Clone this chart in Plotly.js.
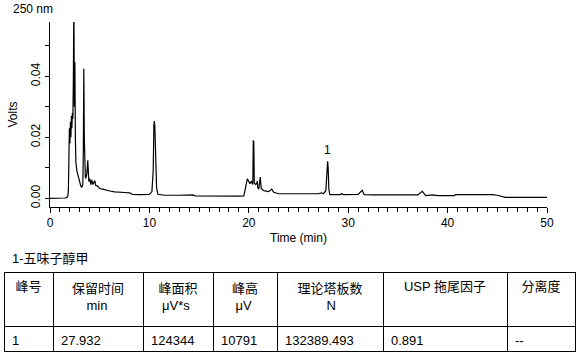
<!DOCTYPE html>
<html>
<head>
<meta charset="utf-8">
<script src="https://cdn.plot.ly/plotly-3.0.1.min.js"></script>
<style>html,body{margin:0;padding:0;background:#fff;}#chart{width:578px;height:357px;}</style>
</head>
<body>
<div id="chart"></div>
<script>
// Chromatogram (time in min, signal in Volts)
const timeMin = [0, 1.0, 1.5, 1.7, 1.8, 1.85, 1.9, 1.95, 2.0, 2.05, 2.1, 2.15, 2.2, 2.25, 2.3, 2.35, 2.4, 2.45, 2.5, 2.55, 2.6, 2.7, 2.8, 2.9, 3.0, 3.1, 3.2, 3.3, 3.35, 3.4, 3.45, 3.5, 3.55, 3.6, 3.7, 3.8, 3.85, 3.9, 4.0, 4.1, 4.2, 4.3, 4.5, 4.6, 4.8, 5.0, 5.3, 5.6, 6.0, 6.5, 7.0, 7.5, 8.0, 8.3, 9.0, 10.0, 10.25, 10.38, 10.45, 10.5, 10.55, 10.62, 10.72, 10.85, 11.5, 13.0, 14.0, 14.4, 14.6, 16.0, 19.0, 19.5, 19.7, 19.85, 20.0, 20.1, 20.25, 20.4, 20.45, 20.5, 20.55, 20.7, 20.8, 20.85, 20.9, 21.0, 21.15, 21.25, 21.5, 22.0, 22.3, 22.5, 23.0, 27.0, 27.3, 27.5, 27.75, 27.88, 27.93, 27.98, 28.05, 28.15, 29.2, 29.35, 29.5, 31.0, 31.4, 31.6, 32.3, 32.6, 33.0, 37.0, 37.45, 37.8, 38.5, 39.0, 40.7, 40.8, 44.5, 45.0, 45.8, 50.0];
const volts = [0.0000, 0.0000, 0.0001, 0.0003, 0.0008, 0.0030, 0.0120, 0.0230, 0.0180, 0.0250, 0.0200, 0.0270, 0.0230, 0.0280, 0.0260, 0.0400, 0.0650, 0.0300, 0.0447, 0.0200, 0.0120, 0.0090, 0.0075, 0.0060, 0.0048, 0.0040, 0.0036, 0.0045, 0.0150, 0.0425, 0.0200, 0.0090, 0.0070, 0.0065, 0.0080, 0.0125, 0.0080, 0.0055, 0.0065, 0.0045, 0.0060, 0.0045, 0.0058, 0.0042, 0.0040, 0.0032, 0.0030, 0.0027, 0.0024, 0.0021, 0.0019, 0.0019, 0.0018, 0.0013, 0.0012, 0.0013, 0.0022, 0.0090, 0.0240, 0.0253, 0.0230, 0.0110, 0.0035, 0.0013, 0.0010, 0.0010, 0.0009, 0.0011, 0.0008, 0.0007, 0.0007, 0.0008, 0.0040, 0.0064, 0.0055, 0.0048, 0.0055, 0.0045, 0.0190, 0.0185, 0.0050, 0.0045, 0.0050, 0.0057, 0.0035, 0.0030, 0.0070, 0.0032, 0.0025, 0.0022, 0.0030, 0.0020, 0.0015, 0.0015, 0.0018, 0.0015, 0.0025, 0.0110, 0.0121, 0.0100, 0.0030, 0.0012, 0.0012, 0.0016, 0.0012, 0.0013, 0.0026, 0.0012, 0.0010, 0.0011, 0.0011, 0.0011, 0.0023, 0.0009, 0.0011, 0.0009, 0.0009, 0.0012, 0.0012, 0.0010, 0.0003, 0.0003];

// Peak label
const peakLabel = "1";
const peakTime = 27.93;
const peakHeight = 0.0121;

// Texts
const wavelengthText = "250 nm";
const compoundTitle = "1-五味子醇甲";

// Result table
const tableHeaders = ["峰号", "保留时间<br>\u00a0\u00a0\u00a0\u00a0min", "峰面积<br>\u00a0μV*s", "峰高<br>\u00a0μV", "理论塔板数<br>\u00a0\u00a0\u00a0\u00a0\u00a0\u00a0\u00a0\u00a0N", "USP 拖尾因子", "分离度"];
const peakNo = ["1"];
const retentionTime = ["27.932"];
const peakArea = ["124344"];
const peakHeightUV = ["10791"];
const plates = ["132389.493"];
const uspTailing = ["0.891"];
const resolution = ["--"];

const FONT = "Liberation Sans, Arial, Noto Sans CJK SC, sans-serif";

const traces = [
  {
    type: "scatter", mode: "lines", x: timeMin, y: volts,
    line: {color: "#000000", width: 1.2}, hoverinfo: "skip", showlegend: false
  },
  {
    type: "table",
    domain: {x: [0, 1], y: [0, 0.2394]},
    columnwidth: [49, 90, 70, 64, 106, 124, 68],
    header: {
      values: tableHeaders,
      align: "center", height: 54,
      line: {color: "#000000", width: 1},
      fill: {color: "#ffffff"},
      font: {family: FONT, size: 13, color: "#000000"}
    },
    cells: {
      values: [peakNo, retentionTime, peakArea, peakHeightUV, plates, uspTailing, resolution],
      align: "left", height: 25,
      line: {color: "#000000", width: 1},
      fill: {color: "#ffffff"},
      font: {family: FONT, size: 13, color: "#000000"}
    }
  }
];

const layout = {
  width: 578, height: 357,
  margin: {l: 4, r: 3, t: 22, b: 5},
  paper_bgcolor: "#ffffff", plot_bgcolor: "#ffffff",
  font: {family: FONT, size: 12, color: "#000000"},
  showlegend: false,
  xaxis: {
    domain: [0.0806, 0.951], anchor: "y",
    range: [0, 50], dtick: 10, tick0: 0,
    showline: true, linecolor: "#000000", linewidth: 1,
    ticks: "outside", ticklen: 5, tickcolor: "#000000", tickwidth: 1,
    minor: {dtick: 1, ticks: "outside", ticklen: 4, tickcolor: "#000000", tickwidth: 1},
    showgrid: false, zeroline: false,
    tickfont: {family: FONT, size: 12, color: "#000000"},
    title: {text: "Time (min)", font: {family: FONT, size: 12, color: "#000000"}, standoff: 4}
  },
  yaxis: {
    domain: [0.4394, 1], anchor: "x",
    range: [-0.00285, 0.0578], dtick: 0.02, tick0: 0, tickformat: ".2f",
    tickangle: -90,
    showline: true, linecolor: "#000000", linewidth: 1,
    ticks: "outside", ticklen: 4, tickcolor: "#000000", tickwidth: 1,
    minor: {dtick: 0.01, ticks: "outside", ticklen: 4, tickcolor: "#000000", tickwidth: 1},
    showgrid: false, zeroline: false,
    tickfont: {family: FONT, size: 12, color: "#000000"},
    title: {text: "Volts", font: {family: FONT, size: 12, color: "#000000"}, standoff: 9}
  },
  annotations: [
    {xref: "paper", yref: "paper", x: 0.0123, y: 1.039, xanchor: "left", yanchor: "middle",
     text: wavelengthText, showarrow: false, font: {family: FONT, size: 12, color: "#000000"}},
    {xref: "paper", yref: "paper", x: 0.0105, y: 0.2848, xanchor: "left", yanchor: "middle",
     text: compoundTitle, showarrow: false, font: {family: FONT, size: 13, color: "#000000"}},
    {xref: "x", yref: "y", x: peakTime, y: peakHeight, xanchor: "center", yanchor: "bottom",
     yshift: 2, text: peakLabel, showarrow: false, font: {family: FONT, size: 12, color: "#000000"}}
  ]
};

Plotly.newPlot("chart", traces, layout, {displayModeBar: false, staticPlot: true});
</script>
</body>
</html>
